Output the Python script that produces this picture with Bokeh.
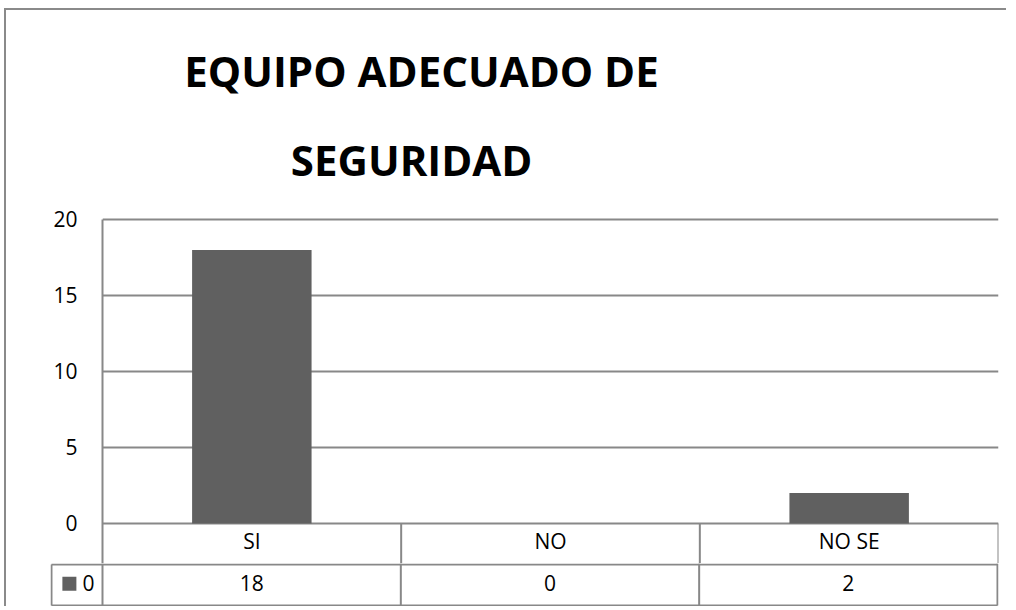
from bokeh.plotting import figure
from bokeh.layouts import column
from bokeh.models import Range1d, FactorRange, FixedTicker, ColumnDataSource
from bokeh.core.properties import value
from bokeh.embed import file_html
from bokeh.resources import INLINE

# ---- data ----
title_lines = ["EQUIPO ADECUADO DE", "SEGURIDAD"]
categories = ["SI", "NO", "NO SE"]
values = [18, 0, 2]
series_name = "0"
y_ticks = [0, 5, 10, 15, 20]

BAR = "#606060"
LINE = "#888888"
LW = 2
FONT = "Open Sans"
n = len(categories)

Y_BOTTOM = -2.632   # bottom of the category row (in value units)
Y_TOP = 33.75

# ---- top figure: title + plot area + category row ----
p1 = figure(width=1000, height=553, output_backend="svg", toolbar_location=None,
            x_range=FactorRange(*categories, range_padding=0),
            y_range=Range1d(Y_BOTTOM, Y_TOP),
            x_axis_location=None,
            min_border_left=96, min_border_right=8, min_border_top=0, min_border_bottom=0)
p1.frame_align = False
p1.outline_line_color = None
p1.xgrid.grid_line_color = None
p1.ygrid.ticker = FixedTicker(ticks=y_ticks)
p1.ygrid.grid_line_color = LINE
p1.ygrid.grid_line_width = LW
p1.yaxis.ticker = FixedTicker(ticks=y_ticks)
p1.yaxis.bounds = (Y_BOTTOM, 20)
p1.yaxis.axis_line_color = LINE
p1.yaxis.axis_line_width = LW
p1.yaxis.major_tick_line_color = None
p1.yaxis.minor_tick_line_color = None
p1.yaxis.major_tick_out = 0
p1.yaxis.major_tick_in = 0
p1.yaxis.major_label_standoff = 25
p1.yaxis.major_label_text_font = FONT
p1.yaxis.major_label_text_font_size = "21px"
p1.yaxis.major_label_text_color = "black"

p1.vbar(x=categories, top=values, width=0.4, fill_color=BAR, line_color=None)

# category row: dividers and labels
div_x = list(range(1, n + 1))
p1.segment(x0=div_x, y0=[0] * n, x1=div_x, y1=[Y_BOTTOM] * n, line_color=LINE, line_width=LW)
centers = [i + 0.5 for i in range(n)]
p1.text(x=centers, y=[-1.15] * n, text=categories, text_align="center", text_baseline="middle",
        text_font=value(FONT), text_font_size="21px", text_color="black")

# title
p1.text(x=[1.068, 1.035], y=[29.8, 23.94], text=title_lines,
        text_align="center", text_baseline="alphabetic",
        text_font=value(FONT), text_font_style="bold", text_font_size="42px",
        text_color="black")

# ---- bottom figure: value row of the data table ----
p2 = figure(width=1000, height=43, output_backend="svg", toolbar_location=None,
            x_range=Range1d(-0.1743, 3.0034), y_range=Range1d(-0.024, 1.024),
            x_axis_location=None, y_axis_location=None,
            min_border_left=44, min_border_right=8, min_border_top=0, min_border_bottom=0)
p2.frame_align = False
p2.outline_line_color = None
p2.grid.visible = False

leg_left = -0.171
p2.segment(x0=[leg_left, leg_left], y0=[1, 0], x1=[n, n], y1=[1, 0],
           line_color=LINE, line_width=LW)
bounds = list(range(n + 1))
p2.segment(x0=bounds, y0=[0] * len(bounds), x1=bounds, y1=[1.024] * len(bounds),
           line_color=LINE, line_width=LW)
p2.segment(x0=[leg_left], y0=[0], x1=[leg_left], y1=[1], line_color=LINE, line_width=LW)

src = ColumnDataSource(dict(x=centers, val=[str(v) for v in values]))
p2.text(x="x", y=0.55, text="val", source=src, text_align="center", text_baseline="middle",
        text_font=value(FONT), text_font_size="21px", text_color="black")

# legend key
p2.scatter(x=[-0.111], y=[0.53], marker="square", size=14, fill_color=BAR, line_color=None)
p2.text(x=[-0.067], y=[0.55], text=[series_name], text_align="left", text_baseline="middle",
        text_font=value(FONT), text_font_size="21px", text_color="black")

layout = column(p1, p2, spacing=0, margin=(8, 0, 0, 4),
                styles={"border-left": "2px solid #8a8a8a", "border-top": "2px solid #8a8a8a"})

open("out.html", "w").write(file_html(layout, INLINE))
